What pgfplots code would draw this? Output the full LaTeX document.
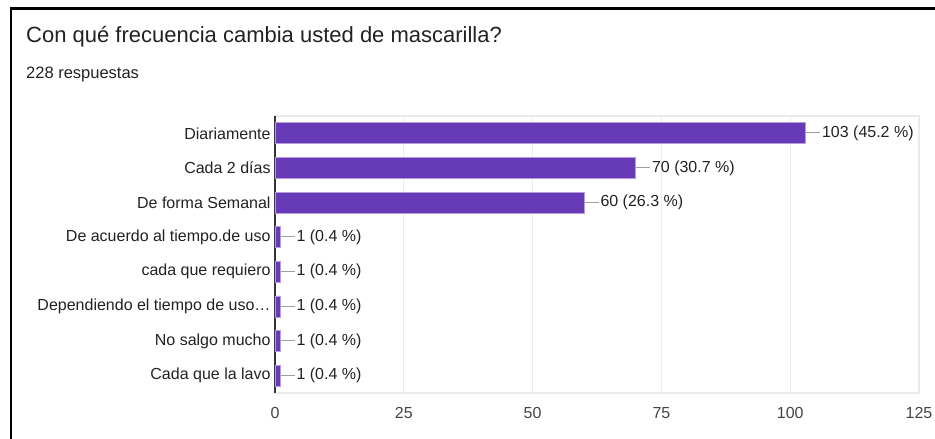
\documentclass[border=0pt]{standalone}
\usepackage{pgfplots}
\pgfplotsset{compat=1.18}
\usepackage{fontspec}
\setmainfont{Liberation Sans}
\definecolor{barpurple}{HTML}{673AB7}
\definecolor{barborder}{HTML}{B39DDB}
\definecolor{gridgray}{HTML}{EBEBEB}
\definecolor{axisdark}{HTML}{333333}
\definecolor{leadgray}{HTML}{9E9E9E}
\definecolor{txt}{HTML}{222222}
\definecolor{ticktxt}{HTML}{444444}
\begin{document}
\begin{tikzpicture}
\path[use as bounding box] (0,0) rectangle (935pt,-439pt);
\node[anchor=base west, inner sep=0pt, text=txt, font=\fontsize{22}{26}\selectfont] at (26pt,-42pt) {Con qué frecuencia cambia usted de mascarilla?};
\node[anchor=base west, inner sep=0pt, text=txt, font=\fontsize{16.5}{19}\selectfont] at (26pt,-78pt) {228 respuestas};
\begin{axis}[
  at={(275pt,-393pt)}, anchor=south west,
  scale only axis, width=644pt, height=277pt,
  xmin=0, xmax=125, ymin=-0.5, ymax=7.5, y dir=reverse,
  xbar, bar width=21pt,
  xtick={25,50,75,100,125},
  extra x ticks={0},
  extra x tick style={grid style={draw=axisdark, line width=1.3pt}},
  ytick={0,...,7},
  yticklabels={Diariamente, Cada 2 días, De forma Semanal, De acuerdo al tiempo.de uso, cada que requiero, Dependiendo el tiempo de uso…, No salgo mucho, Cada que la lavo},
  xmajorgrids,
  grid style={draw=gridgray, line width=1.2pt},
  axis line style={draw=gridgray, line width=1.2pt},
  tick style={draw=none},
  /pgf/number format/assume math mode=true,
  xticklabel style={inner sep=0pt, anchor=north, yshift=-14pt, text=ticktxt, font=\fontsize{16}{19}\selectfont},
  yticklabel style={inner sep=0pt, anchor=east, xshift=0pt, text=txt, font=\fontsize{16}{19}\selectfont},
  nodes near coords={\textcolor{leadgray}{\rule[4pt]{14pt}{1pt}}\hspace{2pt}\pgfplotspointmeta},
  point meta=explicit symbolic,
  nodes near coords style={anchor=west, inner sep=0pt, text=txt, font=\fontsize{16}{19}\selectfont},
  clip=false,
]
\addplot[fill=barpurple, draw=barborder, line width=0.8pt] coordinates {
  (103,0) [103 (45.2 \%)]
  (70,1) [70 (30.7 \%)]
  (60,2) [60 (26.3 \%)]
  (1,3) [1 (0.4 \%)]
  (1,4) [1 (0.4 \%)]
  (1,5) [1 (0.4 \%)]
  (1,6) [1 (0.4 \%)]
  (1,7) [1 (0.4 \%)]
};
\end{axis}
\draw[black, line width=2.6pt] (11pt,-439pt) -- (11pt,-8.5pt) -- (936pt,-8.5pt);
\end{tikzpicture}
\end{document}
